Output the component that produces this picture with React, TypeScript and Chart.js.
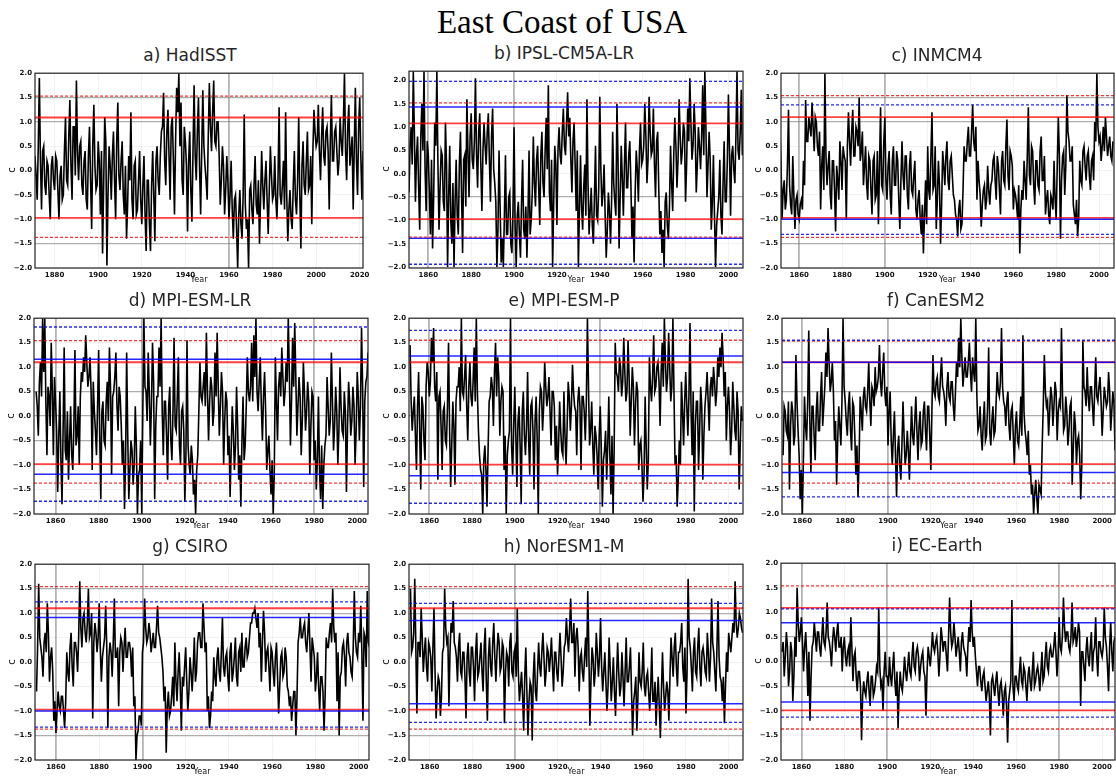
import React, { useEffect, useRef } from "react";
import { Chart, registerables } from "chart.js";

Chart.register(...registerables);
Chart.defaults.font.family = "'DejaVu Sans', sans-serif";

// ---------- tick labels ----------
const xTicksHadISST = [1880, 1900, 1920, 1940, 1960, 1980, 2000, 2020];
const xTicksModels = [1860, 1880, 1900, 1920, 1940, 1960, 1980, 2000];
const yTicks = [-2, -1.5, -1, -0.5, 0, 0.5, 1, 1.5, 2];

// first year of each series; "main" arrays hold values at the start of each year,
// "mid" arrays hold values at mid-year
const startHadISST = 1871;
const startModels = 1851;

// ---------- series (°C anomaly) ----------
const hadisst = [
  .3,-.6,1.9,-.8,.5,-.5,.1,-1.0,.3,-.4,
  .2,-1.0,.1,-.5,1.1,-.3,1.45,-.6,.9,1.85,
  -.2,.6,-.5,.4,-.8,.9,-1.2,1.35,-.4,.6,
  -.9,-1.7,1.1,-1.95,.5,-.6,.8,-1.0,1.4,-.4,
  .6,-.9,-1.4,.3,1.2,-1.0,.2,-.8,.4,-1.1,
  .3,-1.65,-.2,-1.65,.4,-1.45,.5,-.5,.8,1.6,
  -.3,1.25,-.6,1.1,-.9,1.7,2.0,1.4,-.5,.6,
  -1.25,.8,-1.05,1.75,-.2,1.5,-.9,1.65,.1,-.6,
  1.8,.4,1.85,.5,1.0,-.7,.5,-.9,.3,-1.0,
  .2,-1.4,-.5,-2.0,-.4,-1.4,1.15,-1.2,-2.0,-.3,
  -1.1,.3,-.9,-1.5,.4,-.8,.2,-1.3,.5,-.6,
  .3,-1.0,1.3,-.7,.2,1.2,-1.45,-.4,-1.2,.4,
  -.9,1.1,-1.6,.6,-.5,.8,-.3,-1.1,1.25,.5,
  1.35,-.2,1.3,.1,.9,-.8,1.55,.2,.9,-.1,
  1.1,.3,2.0,-.2,1.35,.4,-.8,1.7,-.5,1.5,-.6,
];
const hadisstMid = [
  -.1,.5,.2,.4,-.3,.2,-.5,.1,-.2,.3,
  -.4,-.1,-.6,.4,-.2,.7,.1,.9,-.1,.4,
  .5,-.3,.2,-.6,.3,-.2,.5,.1,-.3,.2,
  .4,-.3,.6,-.5,.1,.3,-.2,.6,-.1,.2,
  -.5,.1,-.7,-.2,-.6,.1,-.9,-.2,-.6,-.3,
  -.9,-.2,-1.1,-.3,-.5,.2,-.2,.3,.9,.2,
  .8,.3,.9,.2,.6,1.2,.5,-.2,.9,.1,
  .2,-.4,.4,.3,.8,.1,.4,.5,-.2,.7,
  .9,1.2,.6,1.0,.3,-.2,.1,-.4,-.2,-.5,
  -.8,-.6,-1.2,-.9,-1.1,-.5,-.7,-1.0,-.4,-.8,
  -.3,-.7,-.2,-.6,-.3,-.2,-.6,-.4,-.1,-.5,
  -.6,-.2,-.5,-.3,-.8,-.5,-.8,-1.0,-.3,-.6,
  -.2,-.5,.1,-.3,.2,-.4,.3,.4,.8,.6,
  .4,.7,.3,.8,.4,.6,.2,.8,.4,.2,
  .6,1.0,.4,.9,.1,.7,.5,.2,.9,.3,.4,
];
const ipsl = [
  -.4,1.0,2.2,-.6,.8,-1.2,1.5,2.2,-.8,.4,
  -1.3,-1.6,1.1,2.2,-1.2,.5,-.6,1.1,-2.0,.6,
  -1.5,-2.0,.3,-1.3,.9,-1.7,.4,1.6,-.5,1.3,
  .1,2.05,-.3,1.3,-.8,1.1,.2,1.3,-.6,1.4,
  -.2,-2.0,.5,-1.9,-2.0,.4,-1.3,-.4,-1.7,1.0,
  -2.0,-.6,-1.8,.3,-1.4,-1.8,.5,-1.0,.8,-.7,
  .6,-1.1,.9,-.5,1.2,1.9,-.8,-2.0,.6,-1.1,
  1.0,.2,1.4,.4,1.75,1.2,-.4,1.1,-.8,-2.0,
  .4,-1.2,.2,1.6,-1.3,-.3,-1.5,.6,-1.0,1.65,
  -.7,.2,-1.8,-.4,-1.5,.9,-.6,1.5,-1.6,.6,
  -.9,1.1,-.3,.7,-1.4,-1.9,.5,-.6,1.1,.3,
  1.5,-.2,1.65,.4,1.4,-.5,.9,-1.3,-1.7,-2.0,
  -.4,-1.4,.6,-.8,1.2,-.3,1.6,.2,1.1,-.6,
  1.4,2.05,.3,1.5,-.4,1.0,.1,1.9,2.2,-.5,
  .9,-1.2,.4,-2.0,-.8,.3,-1.3,.7,-.6,1.7,
  -.9,.6,-.2,2.2,.3,1.8,
];
const ipslMid = [
  .6,.2,.9,.4,-.3,.8,.5,.1,.7,-.4,
  .3,-.5,.6,.2,-.3,.4,-.8,.2,-.5,-1.0,
  -.2,-.6,-.9,.2,-.4,.3,-.7,.5,.8,.3,
  .7,.4,.9,.2,.5,.6,.9,.3,.8,.1,
  -.6,-1.2,-.7,-1.4,-.9,-1.3,-.5,-1.5,-.8,-1.1,
  -.9,-1.3,-.6,-1.2,-.7,-.9,-1.3,-.4,-.2,.3,
  -.3,.4,-.2,.5,.1,-.4,.3,-.6,.2,.5,
  .4,.9,.6,1.1,.8,.3,.7,.2,.5,-.8,
  -.7,-.3,-.9,-.2,-.8,-1.1,-.5,-.9,-.3,.1,
  -.4,-.9,-1.2,-.8,-.6,-.2,-.9,.3,-.5,-.1,
  .2,-.3,.4,-.2,-.7,-.4,.1,.5,.2,.6,
  .8,.3,.9,.5,.2,.7,-.3,-.8,-1.2,-.6,
  -1.1,-.7,-.2,.4,.6,.3,.8,.5,.9,.2,
  .7,1.1,.6,.9,.2,.6,.8,.4,1.0,.2,
  .3,-.6,-.9,-1.1,-.5,-.9,-.2,-.6,.3,.5,
  .4,.1,.8,.5,.9,.4,
];
const inmcm4 = [
  .8,-1.0,-.2,-.6,1.25,-.7,.3,-1.2,-.5,-1.0,
  -.6,.2,1.45,.6,.9,1.4,.4,1.0,.3,-.8,
  .5,2.0,-.3,.4,-.8,.2,-1.25,-.2,.6,-.4,
  .3,-1.0,1.2,.1,1.25,.3,.8,1.5,.4,-.3,
  .5,-.6,.2,-.9,.3,-.5,-1.1,1.3,-.4,1.1,
  -.6,.4,-.9,.5,-.3,.2,-1.2,.6,-.4,.3,
  -.8,.4,-.5,.2,-1.0,-.4,-1.3,-1.7,-.2,.5,
  -.6,1.2,-.3,-1.2,.2,-1.5,.4,-.3,.6,-.4,
  .3,-.5,-.9,-1.35,-.6,-1.1,.5,.2,.9,.3,
  1.35,.4,-.6,-.2,-1.15,-.4,-.8,.1,-.7,-.2,
  .3,-.6,.1,-.9,.4,-.3,1.05,-.4,.3,-.8,
  -.5,-1.0,-1.7,-.4,.2,-.6,1.3,-.3,.4,-.7,
  .2,-.4,.7,-.2,-.9,-.4,-1.1,-.6,.2,-1.0,
  1.1,-1.4,.3,-.5,1.55,.6,.2,-.7,-1.1,-1.35,
  .2,-.3,.5,-.2,.4,-.4,.3,1.0,2.0,.6,
  .2,.9,1.1,.3,.7,.2,
];
const inmcm4Mid = [
  .2,-.4,-.8,.1,-.3,-.9,-.5,-.6,-.9,-.7,
  -.8,-.3,.6,1.1,.7,.9,1.1,.5,.8,.1,
  -.4,.3,.1,-.5,.2,-.4,.1,-.6,.2,.5,
  .2,.5,.6,.8,.3,.9,.5,.2,.8,.1,
  -.3,.3,-.4,.2,-.6,.4,.1,-.3,.6,-.2,
  .1,-.5,.2,-.3,.4,-.6,-.2,-.1,.3,-.5,
  .1,-.4,-.1,-.8,-.6,-1.0,-.7,-.9,-1.1,-.4,
  .3,-.4,.5,-.6,-.3,-.7,.1,.3,-.2,.2,
  -.1,-.6,-1.0,-.8,-1.2,-.4,.2,.6,.3,.8,
  .6,.9,.2,-.5,-.7,-.3,-.6,-.4,-.3,.2,
  -.2,.3,-.4,.2,-.2,.5,-.1,.4,.1,-.4,
  -.7,-.3,-.8,-.6,-.2,.3,-.1,.5,-.3,.2,
  -.3,.4,-.2,.3,-.6,-.9,-.5,-.8,-.6,.1,
  .3,-.2,.4,.1,.8,.2,.5,-.9,-.6,-1.0,
  -.2,.4,.1,.3,-.1,.2,-.2,.6,.9,.7,
  .5,.4,.7,.5,.3,.6,
];
const mpiEsmLr = [
  .5,-.4,1.1,2.0,2.0,-.8,.4,1.5,-.8,.3,
  -1.55,.5,-1.8,1.4,-.9,-1.3,.2,-1.1,1.35,-.4,
  -1.0,.9,1.2,1.65,.6,1.2,-1.1,.1,-.8,1.35,
  -1.7,.3,-.6,.7,1.4,-1.2,.5,1.3,-.3,.4,
  -1.0,-1.9,1.3,-1.7,-.5,-1.4,.2,-2.0,-1.1,-2.0,
  2.0,.5,1.3,-.6,1.5,-1.7,.4,1.4,2.0,-.8,
  .3,-1.3,.6,-.9,1.6,-.3,1.2,-1.0,.2,-1.75,
  1.55,-1.0,-.6,-1.6,-2.0,-.8,1.1,.3,.9,1.7,
  -.5,.8,-.2,1.3,1.7,-.4,.9,-1.0,.5,-.8,
  -1.65,.2,-1.1,.6,-1.3,-1.85,.4,-.6,1.2,.3,
  1.5,1.65,2.0,.1,1.2,-.5,.9,-1.1,-.4,-1.6,
  -2.0,1.2,-.5,.9,1.4,.2,1.1,2.0,-.6,1.6,
  1.9,-.4,.8,-.8,1.1,-.3,.7,-1.2,.5,-.9,
  -1.5,.4,-1.7,-1.9,-.6,.8,-.4,1.3,-.7,.6,
  -1.0,1.0,-.3,.5,-1.55,.7,-.4,.6,-1.0,.9,
  -.5,1.8,-1.45,.7,1.3,1.85,
];
const mpiEsmLrMid = [
  .2,.7,.4,.9,.3,.6,-.2,.5,.8,-.3,
  -.4,-.9,-.3,-.7,.1,-.5,-.8,-.2,-.6,.2,
  .4,.7,.9,1.1,.8,.5,.7,-.3,.2,-.4,
  .1,-.5,.3,-.1,.6,.4,.8,.2,.6,-.2,
  -.5,-.9,-.4,-1.1,-.7,-1.0,-.6,-1.2,-.5,.1,
  .6,-.1,.5,.2,.7,-.2,.4,.6,.1,.3,
  -.4,.2,-.5,.1,-.2,.4,-.6,.1,-.3,-.8,
  -.6,-1.2,-.9,-1.3,-1.1,.1,.4,.6,.2,.5,
  .3,.6,.1,.4,.6,.2,.5,-.1,.3,-.4,
  -.7,-.3,-.6,-.2,-.8,-.5,-.9,.2,.5,.6,
  .3,.8,.5,.7,.2,.4,.1,-.7,-1.1,-.9,
  -1.2,.3,.6,.4,.8,.5,.7,.9,.3,.6,
  .8,.2,.4,-.1,.5,.1,.3,-.2,.4,-.5,
  -.9,-1.1,-.6,-1.0,-.4,.2,-.1,.3,-.2,.1,
  -.3,.2,-.4,.1,-.2,.3,-.1,.2,-.3,.4,
  .2,.6,.3,.8,.5,.9,
];
const mpiEsmP = [
  1.45,-.3,.4,-1.1,.9,-1.5,.2,-.9,1.1,.4,
  1.6,1.8,.3,-1.3,.5,-1.1,.2,-.6,1.5,-1.45,
  .3,-1.4,.6,1.0,2.0,.4,1.25,-.5,1.1,.2,
  1.4,2.0,-.3,-1.1,-2.0,-.6,-1.85,.3,.8,-.2,
  1.5,1.2,-.4,.6,-1.1,-2.0,-.5,2.0,-1.2,.6,
  -1.45,.2,-1.8,.5,-.8,.9,-1.2,.3,-1.5,.4,
  -2.0,.6,-.3,1.1,.2,.8,-.6,.5,-.9,-1.2,
  .3,-.7,.5,-1.0,.7,-.3,1.05,.2,-.8,.6,
  -1.1,.4,-.5,2.0,-.6,.3,-1.2,-.4,-1.5,.2,
  -1.85,-.7,-1.3,.4,-1.6,-2.0,1.5,.8,1.2,.4,
  1.6,.3,1.55,-.4,1.0,-.6,.7,-1.1,-.5,-1.75,
  .4,-1.5,1.2,.3,1.65,.6,1.1,-.2,1.5,2.0,
  .5,1.7,.3,2.0,-1.0,-1.85,-.5,.7,-.6,.9,
  -.4,1.9,-.8,-1.95,.3,-1.1,.6,-1.3,.2,.9,
  -.3,.8,1.0,.2,1.2,1.4,1.7,.4,-.5,.6,
  -.8,.7,-.3,.5,-1.5,.2,
];
const mpiEsmPMid = [
  .3,.1,-.4,.2,-.3,.4,-.5,.6,.9,.7,
  1.1,.6,.9,.4,-.2,.1,-.5,.2,-.3,-.6,
  -.2,.3,.6,.1,.5,.8,.2,.6,.4,.7,
  .3,.5,-.8,-1.2,-.9,-1.1,-.7,.4,.6,.9,
  .4,.8,.3,.5,-.4,-.8,-.3,-.6,-.2,-.4,
  -.1,-.6,.1,-.4,-.2,-.5,.2,-.3,-.1,-.5,
  .1,.5,.2,.6,.4,.1,.5,.2,-.2,-.6,
  -.3,-.8,-.4,-.2,.4,.2,.5,.1,.3,.2,
  .4,.1,.3,.6,-.3,-.6,-.2,-.8,-.4,-.7,
  -.9,-.3,-.6,-.8,-.4,-.7,.9,.5,1.0,.7,
  .9,.5,.8,.3,.6,.2,.5,-.6,-1.0,-1.2,
  -.6,-.9,.6,.8,.5,1.0,.7,.9,.6,1.1,
  .8,1.0,.6,.5,-.8,-1.3,-1.0,.1,.3,.2,
  .4,.1,.5,-.2,.3,-.3,.2,-.4,.5,.3,
  .6,.4,.7,.5,.8,1.0,1.2,.9,.2,.1,
  -.3,.2,-.5,.1,-.6,-.1,
];
const canesm2 = [
  -.8,.1,-.4,-1.5,.3,-.6,1.25,-.3,-1.7,-2.0,
  .4,-.5,1.75,-1.15,.2,-.9,.5,-.3,.9,.2,
  1.3,1.8,.5,1.1,-.5,-1.4,.2,-.6,2.0,.3,
  -.4,.5,-.7,.2,-1.2,-1.65,.4,-.3,.6,.1,
  1.1,-.2,.5,1.0,.6,1.45,.4,1.3,.2,-.6,
  .5,-1.0,.1,-1.65,-.4,-1.3,.3,-1.0,-.3,-1.3,
  .2,-.6,.4,-.9,.1,-.5,.3,-.7,.2,-1.1,
  1.25,.4,.8,.3,1.2,.5,-.2,.9,.3,.7,
  -.1,1.1,1.6,2.0,.6,1.2,.8,1.5,.5,.9,
  2.0,-.3,.2,-.7,.3,-.4,1.4,-.6,.2,-.3,
  .9,.4,1.8,.3,-.2,.5,-.5,.2,-1.0,.1,
  -.6,.4,1.65,-.3,-.8,-1.2,-1.6,-2.0,-1.3,-2.0,
  -1.5,-.6,1.25,.2,-.4,.6,-.2,.7,-.5,.3,
  1.8,-.3,.4,-.6,.2,-1.4,.1,-1.0,-.4,-1.7,
  1.55,.5,1.0,.1,.6,-.2,1.2,.3,.8,-.4,
  .6,.2,.9,-.3,.5,-.7,
];
const canesm2Mid = [
  .2,-.3,.3,-.2,.1,-.4,.3,-.8,-1.1,-.9,
  -.2,.3,-.1,.2,-.4,.1,-.3,.4,-.2,.6,
  .8,1.1,.7,.5,-.1,-.5,-.2,.3,.6,-.1,
  .2,-.3,.3,-.4,-.6,-.9,.1,.4,.2,.5,
  .3,.6,.2,.5,.8,.7,.9,.5,.6,.1,
  -.5,-.4,-.8,-.7,-1.0,-.6,-.4,-.8,-.7,-.5,
  -.4,-.1,-.3,-.2,-.6,.1,-.3,.2,-.4,.1,
  .5,.7,.4,.8,.6,.3,.6,.4,.7,.2,
  .5,.8,1.0,1.2,.9,.8,1.1,.9,1.2,.7,
  .4,-.2,-.4,-.1,-.5,.2,-.3,-.1,-.4,.3,
  .5,.7,.6,.2,.3,-.2,.1,-.4,-.2,-.5,
  -.2,-.4,.1,-.5,-.3,-1.0,-1.4,-1.6,-1.7,-1.4,
  -1.6,.2,.5,.3,.1,.4,.2,.5,.1,.2,
  .4,-.2,.1,-.3,.3,-.7,-.2,-.5,-.8,-1.0,
  .6,.2,.4,.6,.2,.5,.4,.6,.3,.1,
  .4,.3,.5,.1,.3,.2,
];
const csiro = [
  -.6,1.6,.3,-.3,.6,1.2,-.4,.3,-1.2,-1.45,
  -.6,-1.0,-.7,-1.35,.2,-.4,.6,-.5,.4,-.2,
  1.65,.3,1.0,.4,1.5,.6,-1.15,.8,.2,1.2,
  -.4,.3,1.15,-1.35,.4,-.3,1.3,.1,-.9,.5,
  -.2,.7,.1,.4,-.3,-.9,-2.0,-1.4,-1.1,.2,
  1.3,.4,.8,.2,.6,.3,1.15,.5,.1,-.8,
  -1.85,-.6,-1.0,-.3,.4,-.8,.2,-1.4,-.5,.3,
  -1.0,.1,-.6,.5,-.2,.6,.3,1.2,.2,-1.0,
  -1.35,-.6,.1,-.5,.3,-.4,.9,-.3,.2,-.6,
  .4,-.2,.5,-.5,.3,.6,-.1,.5,.2,.8,
  1.0,1.1,.7,.3,-.4,1.05,-.2,.3,-.6,.2,
  -.5,.4,-1.05,.1,-.3,.3,-.5,-.9,-1.2,-.6,
  -1.5,.4,.9,.5,.8,.2,1.0,-.4,.3,-.6,
  .2,-1.0,-.3,-1.4,.5,.3,.8,1.5,.4,-.8,
  -1.5,-.2,.4,-.5,.6,.1,-.3,1.45,.2,.6,
  1.15,-1.2,.5,1.45,.3,.5,
];
const csiroMid = [
  .3,.5,.1,.4,.2,.6,.1,-.2,-.8,-1.0,
  -.9,-.7,-1.0,-.8,-.2,.3,-.1,.4,.2,.5,
  .7,.9,.6,.8,.5,1.0,.4,.6,.5,.3,
  .1,.5,.3,.1,.2,.4,.1,.3,.2,.4,
  .3,.1,.4,.2,.3,-.7,-1.5,-1.1,-1.3,.4,
  .7,.5,.6,.4,.3,.7,.6,.3,-.2,-.5,
  -.9,-1.1,-.7,-.9,-.4,-.2,-.5,-.3,-.1,-.4,
  -.6,-.2,-.1,-.4,.4,.6,.3,.7,.4,-.7,
  -1.1,-.8,-.3,.1,-.2,.2,-.1,.1,-.3,.2,
  -.4,.1,-.3,.2,-.2,-.1,.3,.1,.5,.8,
  1.0,.9,1.0,.6,.4,.6,.2,-.1,.3,-.2,
  .1,-.3,-.5,.2,-.2,.1,-.6,-.7,-.9,-.6,
  -.7,.6,.5,.7,.4,.6,.3,.5,.1,-.3,
  -.5,-.3,-.6,-.7,.3,.6,.4,.7,.6,.2,
  -.3,.3,.1,.4,.2,-.2,.3,.5,.1,.4,
  .2,.6,-.1,.4,.5,.2,
];
const noresm1m = [
  1.5,.3,1.7,-1.05,.4,1.1,-.2,.5,-.4,.3,
  -.6,1.1,-1.15,-.3,-1.1,.2,1.5,.4,-.9,.8,
  1.25,.3,-.4,.6,-.3,.2,-1.15,.4,-.5,.3,
  -.8,.6,-.2,.4,-.6,.7,-1.2,.5,-.3,.8,
  -.4,.6,-.2,.4,-1.25,.2,-.5,.6,-.3,.3,
  1.1,-.8,-.2,-1.4,.3,-1.5,-.4,-1.6,.2,-.8,
  .4,-.3,.6,-.5,.3,-.2,.5,-.6,.2,-.4,
  .6,-.5,.3,.9,.2,1.3,.4,-.3,.7,-.6,
  .2,-.4,.5,1.45,-1.3,.3,-.5,.6,-.3,.9,
  -.6,.2,-1.0,.5,-.8,.1,-1.1,.4,-.7,.2,
  -.9,.5,-.4,.3,-1.5,-.6,-1.4,.2,-.5,.4,
  -.7,-.2,-1.0,.3,-.8,-1.3,-.3,-1.55,.2,-1.0,
  -.4,-1.2,.5,-.3,.6,-.5,.2,.8,-.4,-1.05,
  1.7,.3,-.6,.5,-.3,.7,-.5,.3,-.2,.6,
  -.4,1.3,.2,-.6,1.25,-.3,-.8,-1.25,.2,.6,
  .2,.8,1.65,.5,1.0,.7,
];
const noresm1mMid = [
  .2,.6,.3,.4,.1,.5,.2,-.1,.4,.1,
  .3,-.2,-.6,-.4,-.7,.3,.7,.5,.2,.6,
  .4,.1,.3,-.2,.2,-.3,.1,-.2,.3,-.1,
  .2,-.3,.1,-.2,.3,-.4,.1,-.1,.4,.1,
  .2,.4,-.1,.3,-.2,.1,.4,-.2,.2,-.3,
  -.2,-.5,-.7,-.3,-.6,-.8,-.5,-.3,-.6,-.2,
  -.1,.2,.1,-.2,.2,.1,-.1,.2,-.2,.1,
  .1,-.2,.4,.5,.7,.4,.8,.5,.3,.1,
  -.2,.1,-.1,.3,-.4,.1,-.2,.2,.1,-.1,
  -.2,-.4,-.5,-.1,-.4,-.6,-.3,-.2,-.5,-.3,
  -.2,-.4,-.1,-.6,-.8,-.3,-.7,-.4,-.2,-.5,
  -.3,-.6,-.5,-.8,-.4,-.7,-.9,-.6,-.5,-.7,
  -.6,-.3,.1,.3,-.1,.2,.4,-.1,.3,-.2,
  .5,-.1,.2,-.2,.3,-.1,.2,.1,-.3,.2,
  .1,.4,-.2,.3,.1,-.4,-.3,-.5,-.2,.4,
  .5,.6,.8,.7,.9,.6,
];
const ecEarth = [
  .2,-.3,.6,-.5,.4,-.8,.5,1.5,.4,.9,
  -.2,.6,-.7,-1.2,.3,.8,.2,.6,.1,.9,
  .3,1.2,.4,-.1,.7,.2,.8,.3,-.2,.5,
  -.1,.3,.9,-.4,.2,-.6,-.2,-1.6,-.4,-.7,
  -.2,-.9,-.3,-.6,-.1,1.1,-.5,-1.0,.2,-.3,
  .1,-.5,.2,-.7,-1.35,-.2,-.6,.1,-.4,.2,
  -.3,.4,-.2,.3,-.4,.1,-.2,-1.1,.3,-.1,
  .6,.2,.5,-.3,.7,.2,.4,-.2,1.3,.3,
  .8,.1,.5,-.2,.6,.2,-.3,.7,1.25,.3,
  .1,-.5,-.1,-.6,-.2,-.8,-.4,-1.5,-.3,-.7,
  -.2,-.9,-.4,-1.1,-.5,-1.65,-.6,1.25,-.8,-.3,
  -.6,.1,-.5,-.2,-.8,-.1,-.6,.2,-.4,-.1,
  -.6,.2,-.3,.4,-.2,.3,.1,.6,-.3,.9,
  .2,1.3,.4,.6,.2,1.2,.5,.3,.8,-.9,
  .2,-.4,.5,-.1,.6,.2,.9,-.3,.4,.1,
  1.1,.3,-.6,.8,-.2,.5,
];
const ecEarthMid = [
  .4,.1,.3,-.2,.2,-.3,.1,.8,.6,.4,
  .3,.1,.2,-.3,.4,.5,.6,.3,.5,.4,
  .6,.5,.2,.4,.5,.6,.3,.5,.3,.1,
  .2,-.1,.3,.1,-.3,-.2,-.5,-.7,-.6,-.4,
  -.6,-.3,-.7,-.4,-.2,-.1,-.4,-.2,-.3,-.5,
  -.3,-.1,-.4,-.2,-.6,-.5,-.3,-.2,-.1,-.2,
  .1,-.1,.2,.1,-.1,.2,-.3,-.2,.1,.2,
  .3,.4,.2,.1,.5,.4,.1,.5,.6,.4,
  .5,.3,.2,.4,.3,.1,.3,.4,.6,.5,
  -.2,-.1,-.4,-.3,-.5,-.6,-.7,-.4,-.5,-.4,
  -.6,-.5,-.7,-.6,-.9,-.8,-.4,-.5,-.3,-.5,
  -.2,-.4,-.1,-.5,-.3,-.4,-.2,-.5,-.2,-.3,
  -.2,-.4,.1,-.1,.2,.1,.3,.2,.1,.3,
  .5,.7,.6,.3,.5,.4,.7,.5,.6,.2,
  -.1,.2,.1,.3,-.2,.3,.1,.4,.2,.3,
  .5,-.1,.3,.2,.4,.1,
];

// ---------- threshold lines (upper, lower) ----------
const hadRed = [1.09, -0.97];
const hadRedDash = [1.53, -1.37];
const ipslRed = [1.08, -0.97];
const ipslRedDash = [1.52, -1.36];
const ipslBlue = [1.43, -1.38];
const ipslBlueDash = [1.98, -1.94];
const inmRed = [1.1, -0.97];
const inmRedDash = [1.54, -1.37];
const inmBlue = [-1.0];
const inmBlueDash = [1.35, -1.31];
const mpiLrRed = [1.1, -0.98];
const mpiLrRedDash = [1.54, -1.37];
const mpiLrBlue = [1.16, -1.19];
const mpiLrBlueDash = [1.82, -1.74];
const mpiPRed = [1.1, -0.99];
const mpiPRedDash = [1.55, -1.37];
const mpiPBlue = [1.23, -1.22];
const mpiPBlueDash = [1.75, -1.78];
const canRed = [1.1, -0.98];
const canRedDash = [1.53, -1.37];
const canBlue = [1.1, -1.15];
const canBlueDash = [1.55, -1.65];
const csiroRed = [1.1, -0.97];
const csiroRedDash = [1.54, -1.37];
const csiroBlue = [0.91, -1.0];
const csiroBlueDash = [1.23, -1.33];
const norRed = [1.1, -0.97];
const norRedDash = [1.54, -1.37];
const norBlue = [0.85, -0.85];
const norBlueDash = [1.2, -1.23];
const ecRed = [1.09, -0.99];
const ecRedDash = [1.54, -1.37];
const ecBlue = [0.79, -0.82];
const ecBlueDash = [1.07, -1.13];

// ---------- emphasised grey grid lines ----------
const gridYOuter = [1.5, 1.0, -1.5];
const gridYInner = [0.5, 0, -0.5];
const hadGridX = [1960];
const ipslGridY = [-0.5];
const ipslGridX = [1860, 1900];
const inmGridX = [1860, 1900];
const mpiLrGridX = [1860, 1900, 1980];
const mpiPGridX = [1860, 1940];
const canGridX = [1860, 1900];
const csiroGridX = [1860, 1900];
const norGridX = [1900];
const ecGridX = [1860, 1900, 1980];

type PanelDef = {
  title: string;
  series: number[];
  mid: number[];
  start: number;
  xMin: number;
  xMax: number;
  xTicks: number[];
  yMin: number;
  yMax: number;
  box: [number, number, number, number];
  titleX: number;
  red: number[];
  redDash: number[];
  blue: number[];
  blueDash: number[];
  gridY: number[];
  gridX: number[];
};

const panels: PanelDef[] = [
  { title: "a) HadISST", series: hadisst, mid: hadisstMid, start: startHadISST, xMin: 1871, xMax: 2021.5, xTicks: xTicksHadISST, yMin: -2, yMax: 2, box: [35, 72, 363, 268], titleX: 190, red: hadRed, redDash: hadRedDash, blue: [], blueDash: [], gridY: gridYOuter, gridX: hadGridX },
  { title: "b) IPSL-CM5A-LR", series: ipsl, mid: ipslMid, start: startModels, xMin: 1851, xMax: 2006.8, xTicks: xTicksModels, yMin: -2.02, yMax: 2.2, box: [409, 70, 743, 268], titleX: 564, red: ipslRed, redDash: ipslRedDash, blue: ipslBlue, blueDash: ipslBlueDash, gridY: ipslGridY, gridX: ipslGridX },
  { title: "c) INMCM4", series: inmcm4, mid: inmcm4Mid, start: startModels, xMin: 1851.5, xMax: 2007, xTicks: xTicksModels, yMin: -2, yMax: 2, box: [781, 72, 1114, 268], titleX: 937, red: inmRed, redDash: inmRedDash, blue: inmBlue, blueDash: inmBlueDash, gridY: gridYOuter, gridX: inmGridX },
  { title: "d) MPI-ESM-LR", series: mpiEsmLr, mid: mpiEsmLrMid, start: startModels, xMin: 1850, xMax: 2005, xTicks: xTicksModels, yMin: -2, yMax: 2, box: [34, 317, 368, 514], titleX: 190, red: mpiLrRed, redDash: mpiLrRedDash, blue: mpiLrBlue, blueDash: mpiLrBlueDash, gridY: gridYInner, gridX: mpiLrGridX },
  { title: "e) MPI-ESM-P", series: mpiEsmP, mid: mpiEsmPMid, start: startModels, xMin: 1850.5, xMax: 2006.8, xTicks: xTicksModels, yMin: -2, yMax: 2, box: [409, 317, 743, 514], titleX: 564, red: mpiPRed, redDash: mpiPRedDash, blue: mpiPBlue, blueDash: mpiPBlueDash, gridY: gridYInner, gridX: mpiPGridX },
  { title: "f) CanESM2", series: canesm2, mid: canesm2Mid, start: startModels, xMin: 1850.5, xMax: 2006, xTicks: xTicksModels, yMin: -2, yMax: 2, box: [782, 317, 1115, 514], titleX: 936, red: canRed, redDash: canRedDash, blue: canBlue, blueDash: canBlueDash, gridY: gridYInner, gridX: canGridX },
  { title: "g) CSIRO", series: csiro, mid: csiroMid, start: startModels, xMin: 1850.3, xMax: 2004.8, xTicks: xTicksModels, yMin: -2, yMax: 2, box: [35, 563, 369, 760], titleX: 190, red: csiroRed, redDash: csiroRedDash, blue: csiroBlue, blueDash: csiroBlueDash, gridY: gridYOuter, gridX: csiroGridX },
  { title: "h) NorESM1-M", series: noresm1m, mid: noresm1mMid, start: startModels, xMin: 1850.3, xMax: 2006.7, xTicks: xTicksModels, yMin: -2, yMax: 2, box: [409, 563, 743, 760], titleX: 564, red: norRed, redDash: norRedDash, blue: norBlue, blueDash: norBlueDash, gridY: gridYOuter, gridX: norGridX },
  { title: "i) EC-Earth", series: ecEarth, mid: ecEarthMid, start: startModels, xMin: 1850.5, xMax: 2006, xTicks: xTicksModels, yMin: -2, yMax: 2, box: [781, 562, 1115, 760], titleX: 937, red: ecRed, redDash: ecRedDash, blue: ecBlue, blueDash: ecBlueDash, gridY: gridYInner, gridX: ecGridX },
];

const YW = 34; // y-axis band width
const PT = 6;
const PR = 12;
const XH = 14;

const framePlugin = {
  id: "frame",
  afterDraw(chart: any) {
    const { ctx, chartArea } = chart;
    const { left, top, right, bottom } = chartArea;
    ctx.save();
    ctx.strokeStyle = "#222";
    ctx.lineWidth = 1.2;
    ctx.strokeRect(left, top, right - left, bottom - top);
    ctx.restore();
  },
};

function refDatasets(vals: number[], color: string, width: number, dash: number[], xMin: number, xMax: number) {
  return vals.map((v) => ({
    data: [{ x: xMin, y: v }, { x: xMax, y: v }],
    borderColor: color,
    borderWidth: width,
    borderDash: dash,
    pointRadius: 0,
    order: 0,
  }));
}

function Panel({ p }: { p: PanelDef }) {
  const ref = useRef<HTMLCanvasElement>(null);
  const [l, t, r, b] = p.box;
  const w = r - l + YW + PR;
  const h = b - t + PT + XH;

  useEffect(() => {
    if (!ref.current) return;
    const series: { x: number; y: number }[] = [];
    p.series.forEach((v, i) => {
      series.push({ x: p.start + i, y: v });
      if (i < p.mid.length) series.push({ x: p.start + i + 0.5, y: p.mid[i] });
    });
    const datasets: any[] = [
      ...refDatasets(p.blueDash, "rgba(0,0,255,0.85)", 1.3, [3, 2], p.xMin, p.xMax),
      ...refDatasets(p.redDash, "rgba(255,0,0,0.8)", 1.3, [3, 2], p.xMin, p.xMax),
      ...refDatasets(p.blue, "rgba(0,0,255,0.85)", 1.5, [], p.xMin, p.xMax),
      ...refDatasets(p.red, "rgba(255,0,0,0.75)", 1.8, [], p.xMin, p.xMax),
      {
        data: series,
        borderColor: "#000",
        borderWidth: 1.6,
        pointRadius: 0,
        tension: 0,
        order: 1,
      },
    ];
    const chart = new Chart(ref.current, {
      type: "line",
      data: { datasets },
      options: {
        animation: false,
        responsive: false,
        maintainAspectRatio: false,
        events: [],
        layout: { padding: { left: 0, top: PT, right: PR, bottom: 0 } },
        plugins: { legend: { display: false }, tooltip: { enabled: false } },
        scales: {
          x: {
            type: "linear",
            min: p.xMin,
            max: p.xMax,
            afterBuildTicks: (s: any) => {
              s.ticks = p.xTicks.map((v) => ({ value: v }));
            },
            afterFit: (s: any) => {
              s.height = XH;
            },
            ticks: {
              autoSkip: false,
              maxRotation: 0,
              padding: 3,
              color: "#111",
              font: { size: 7, weight: "bold" },
              callback: (v: any) => String(v),
            },
            grid: {
              drawTicks: false,
              color: (c: any) => (p.gridX.includes(c.tick?.value) ? "rgba(140,140,140,0.65)" : "rgba(0,0,0,0.05)"),
              lineWidth: (c: any) => (p.gridX.includes(c.tick?.value) ? 1.8 : 1),
            },
            border: { display: false },
          },
          y: {
            type: "linear",
            min: p.yMin,
            max: p.yMax,
            afterBuildTicks: (s: any) => {
              s.ticks = yTicks.map((v) => ({ value: v }));
            },
            afterFit: (s: any) => {
              s.width = YW;
            },
            ticks: {
              autoSkip: false,
              padding: 3,
              color: "#111",
              font: { size: 7, weight: "bold" },
              callback: (v: any) => (v < 0 ? "\u2212" : "") + Math.abs(v).toFixed(1),
            },
            grid: {
              drawTicks: false,
              color: (c: any) => (p.gridY.includes(c.tick?.value) ? "rgba(120,120,120,0.6)" : "rgba(0,0,0,0.05)"),
              lineWidth: (c: any) => (p.gridY.includes(c.tick?.value) ? 1.3 : 1),
            },
            border: { display: false },
          },
        },
      },
      plugins: [framePlugin],
    });
    return () => chart.destroy();
  }, [p]);

  const midX = (l + r) / 2;
  const midY = (t + b) / 2;
  return (
    <>
      <canvas
        ref={ref}
        width={w}
        height={h}
        style={{ position: "absolute", left: l - YW, top: t - PT, width: w, height: h }}
      />
      <div
        style={{
          position: "absolute",
          left: p.titleX - 150,
          width: 300,
          top: t - 27,
          height: 20,
          lineHeight: "20px",
          textAlign: "center",
          fontFamily: "'DejaVu Sans', sans-serif",
          fontSize: 17,
          color: "#262626",
          whiteSpace: "nowrap",
        }}
      >
        {p.title}
      </div>
      <div
        style={{
          position: "absolute",
          left: l - 33,
          top: midY - 6,
          width: 20,
          height: 12,
          lineHeight: "12px",
          textAlign: "center",
          fontFamily: "'DejaVu Sans', sans-serif",
          fontSize: 10,
          color: "#111",
          transform: "rotate(-90deg)",
        }}
      >
        c
      </div>
      <div
        style={{
          position: "absolute",
          left: midX - 20,
          width: 40,
          top: b + 7,
          height: 10,
          lineHeight: "10px",
          textAlign: "center",
          fontFamily: "'DejaVu Sans', sans-serif",
          fontSize: 8,
          color: "#111",
        }}
      >
        Year
      </div>
    </>
  );
}

export default function App() {
  return (
    <div
      style={{
        position: "absolute",
        left: 0,
        top: 0,
        width: 1116,
        height: 776,
        overflow: "hidden",
        background: "#fff",
      }}
    >
      <div
        style={{
          position: "absolute",
          left: 262,
          width: 600,
          top: 3,
          height: 38,
          lineHeight: "38px",
          textAlign: "center",
          fontFamily: "'Liberation Serif', serif",
          fontSize: 33,
          color: "#000",
        }}
      >
        East Coast of USA
      </div>
      {panels.map((p) => (
        <Panel key={p.title} p={p} />
      ))}
    </div>
  );
}
